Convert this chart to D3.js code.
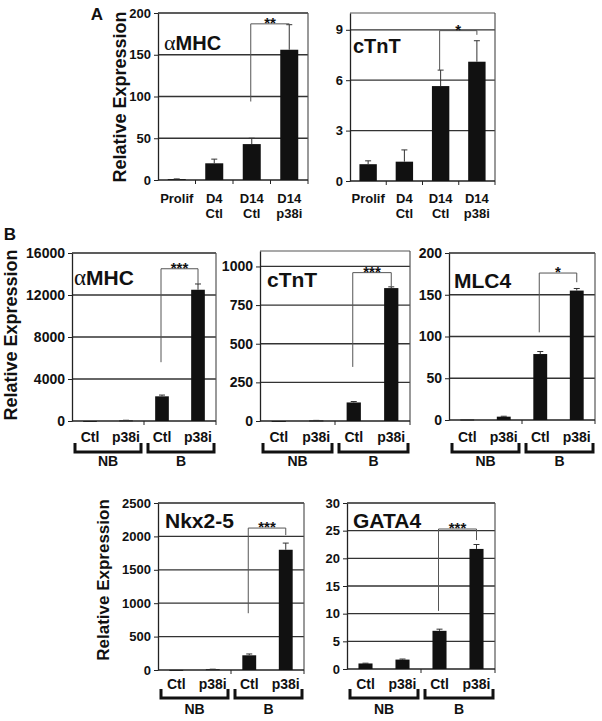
<!DOCTYPE html>
<html><head><meta charset="utf-8">
<script src="https://cdn.jsdelivr.net/npm/d3@7"></script>
<style>
body{margin:0;background:#fff}
svg{display:block}
text{font-family:Arial,"Liberation Sans",sans-serif;font-weight:bold;fill:#111}
</style>
</head><body>
<svg id="c" width="602" height="721"></svg>
<script>
// ---------- data ----------
const catsA = [["Prolif"], ["D4", "Ctl"], ["D14", "Ctl"], ["D14", "p38i"]];
const catsB = ["Ctl", "p38i", "Ctl", "p38i"];
const groupsB = ["NB", "B"];

const A_aMHC = [1, 20, 43, 156];
const A_aMHC_err = [0.3, 5, 7, 30];
const A_cTnT = [1.0, 1.15, 5.65, 7.1];
const A_cTnT_err = [0.2, 0.7, 0.95, 1.25];
const B_aMHC = [0, 50, 2350, 12500];
const B_aMHC_err = [0, 20, 120, 550];
const B_cTnT = [0, 3, 120, 860];
const B_cTnT_err = [0, 1, 6, 8];
const B_MLC4 = [0.5, 4, 79, 155];
const B_MLC4_err = [0, 0.5, 3, 2.5];
const B_Nkx25 = [1, 10, 220, 1800];
const B_Nkx25_err = [0, 2, 20, 100];
const B_GATA4 = [1.0, 1.7, 6.9, 21.7];
const B_GATA4_err = [0.05, 0.1, 0.3, 0.8];

const ticks_A_aMHC = [0, 50, 100, 150, 200];
const ticks_A_cTnT = [0, 3, 6, 9];
const ticks_B_aMHC = [0, 4000, 8000, 12000, 16000];
const ticks_B_cTnT = [0, 250, 500, 750, 1000];
const ticks_B_MLC4 = [0, 50, 100, 150, 200];
const ticks_B_Nkx25 = [0, 500, 1000, 1500, 2000, 2500];
const ticks_B_GATA4 = [0, 5, 10, 15, 20, 25, 30];

// significance brackets: [left foot, top, right foot] in data units
const sig_A_aMHC = [94, 187, 186];
const sig_A_cTnT = [6.6, 8.95, 8.7];
const sig_B_aMHC = [5600, 14500, 13000];
const sig_B_cTnT = [350, 960, 870];
const sig_B_MLC4 = [105, 176, 165];
const sig_B_Nkx25 = [850, 2125, 2020];
const sig_B_GATA4 = [10.5, 25.3, 23.3];
const stars = ["**", "*", "***", "***", "*", "***", "***"];
const titles = ["MHC", "cTnT", "MHC", "cTnT", "MLC4", "Nkx2-5", "GATA4"];
const alpha = [true, false, true, false, false, false, false];

// ---------- layout ----------
const svg = d3.select("#c");
const layout = [
  {x0:158, x1:308, y0:13,  y1:180, max:200,   tick:13, ts:20, tx:164, ty:50,  kind:"A"},
  {x0:350, x1:495, y0:13,  y1:181, max:10,    tick:13, ts:20, tx:353, ty:53,  kind:"A"},
  {x0:72,  x1:216, y0:253, y1:421, max:16000, tick:14, ts:21, tx:74,  ty:285, kind:"B", lb:442, br:452, gl:466},
  {x0:260, x1:410, y0:251, y1:421, max:1100,  tick:14, ts:21, tx:267, ty:287, kind:"B", lb:442, br:452, gl:466},
  {x0:449, x1:595, y0:253, y1:420, max:200,   tick:14, ts:21, tx:454, ty:288, kind:"B", lb:442, br:452, gl:466},
  {x0:158, x1:304, y0:503, y1:670, max:2500,  tick:13, ts:21, tx:165, ty:528, kind:"B", lb:689, br:698, gl:714},
  {x0:347, x1:495, y0:503, y1:669, max:30,    tick:13, ts:21, tx:353, ty:528, kind:"B", lb:689, br:698, gl:714}
];
const vals = [A_aMHC, A_cTnT, B_aMHC, B_cTnT, B_MLC4, B_Nkx25, B_GATA4];
const errs = [A_aMHC_err, A_cTnT_err, B_aMHC_err, B_cTnT_err, B_MLC4_err, B_Nkx25_err, B_GATA4_err];
const ticks = [ticks_A_aMHC, ticks_A_cTnT, ticks_B_aMHC, ticks_B_cTnT, ticks_B_MLC4, ticks_B_Nkx25, ticks_B_GATA4];
const sigs = [sig_A_aMHC, sig_A_cTnT, sig_B_aMHC, sig_B_cTnT, sig_B_MLC4, sig_B_Nkx25, sig_B_GATA4];

const gridCol = "#333";

layout.forEach((L, k) => {
  const g = svg.append("g");
  const n = vals[k].length;
  const pad = L.kind === "A" ? 0.52 : 0.62;
  const x = d3.scaleBand().domain(d3.range(n)).range([L.x0, L.x1]).paddingInner(pad).paddingOuter(pad / 2);
  const y = d3.scaleLinear().domain([0, L.max]).range([L.y1, L.y0]);

  // gridlines
  g.selectAll("line.grid").data(ticks[k].filter(t => t > 0)).join("line")
    .attr("x1", L.x0).attr("x2", L.x1).attr("y1", d => y(d)).attr("y2", d => y(d))
    .attr("stroke", gridCol).attr("stroke-width", 1.3);
  // frame top & right
  g.append("line").attr("x1", L.x0).attr("x2", L.x1).attr("y1", y(L.max)).attr("y2", y(L.max)).attr("stroke", "#555").attr("stroke-width", 1.2);
  g.append("line").attr("x1", L.x1).attr("x2", L.x1).attr("y1", y(L.max)).attr("y2", y(0)).attr("stroke", "#555").attr("stroke-width", 1.2);

  // y axis
  const ya = d3.axisLeft(y).tickValues(ticks[k]).tickFormat(d3.format("d")).tickSize(4).tickPadding(3).tickSizeOuter(0);
  const yg = g.append("g").attr("transform", `translate(${L.x0},0)`).call(ya);
  yg.select(".domain").attr("stroke", "#222").attr("stroke-width", 1.3);
  yg.selectAll(".tick line").attr("stroke", "#222");
  yg.selectAll("text").style("font-size", L.tick + "px").style("font-family", "Arial, 'Liberation Sans', sans-serif").style("font-weight", "bold").attr("fill", "#111");

  // x axis line with ticks
  const step = x.step();
  g.append("line").attr("x1", L.x0).attr("x2", L.x1).attr("y1", y(0)).attr("y2", y(0)).attr("stroke", "#222").attr("stroke-width", 1.3);
  const bounds = L.kind === "A" ? d3.range(1, n + 1) : [n / 2, n];
  g.selectAll("line.xt").data(bounds).join("line")
    .attr("x1", i => L.x0 + i * step).attr("x2", i => L.x0 + i * step)
    .attr("y1", y(0)).attr("y2", y(0) + 4).attr("stroke", "#222");

  // bars
  g.selectAll("rect.bar").data(vals[k]).join("rect")
    .attr("x", (d, i) => x(i)).attr("width", x.bandwidth())
    .attr("y", d => y(d)).attr("height", d => Math.max(0.8, y(0) - y(d)))
    .attr("fill", "#111");
  // error bars
  const eb = vals[k].map((v, i) => ({i, v, e: errs[k][i]})).filter(d => d.e > 0);
  g.selectAll("line.ev").data(eb).join("line")
    .attr("x1", d => x(d.i) + x.bandwidth() / 2).attr("x2", d => x(d.i) + x.bandwidth() / 2)
    .attr("y1", d => y(d.v)).attr("y2", d => y(d.v + d.e)).attr("stroke", "#333").attr("stroke-width", 1);
  g.selectAll("line.ec").data(eb).join("line")
    .attr("x1", d => x(d.i) + x.bandwidth() / 2 - 3).attr("x2", d => x(d.i) + x.bandwidth() / 2 + 3)
    .attr("y1", d => y(d.v + d.e)).attr("y2", d => y(d.v + d.e)).attr("stroke", "#333").attr("stroke-width", 1);

  // significance bracket
  const s = sigs[k];
  const xl = x(2) + x.bandwidth() / 2 - 1, xr = x(3) + x.bandwidth() / 2;
  g.append("path")
    .attr("d", `M${xl},${y(s[0])}V${y(s[1])}H${xr}V${y(s[2])}`)
    .attr("fill", "none").attr("stroke", "#555").attr("stroke-width", 1);
  g.append("text").attr("x", (xl + xr) / 2).attr("y", y(s[1]) + 4)
    .attr("text-anchor", "middle").style("font-size", "15px").text(stars[k]);

  // title
  const t = g.append("text").attr("x", L.tx).attr("y", L.ty).style("font-size", L.ts + "px");
  if (alpha[k]) t.append("tspan").style("font-family", "'Liberation Serif','DejaVu Serif',serif").style("font-weight", "normal").style("font-size", (L.ts + 2) + "px").text("α");
  t.append("tspan").text(titles[k]);

  // x labels
  if (L.kind === "A") {
    catsA.forEach((c, i) => {
      c.forEach((line, j) => {
        g.append("text").attr("x", x(i) + x.bandwidth() / 2).attr("y", 203 + j * 15)
          .attr("text-anchor", "middle").style("font-size", "13px").text(line);
      });
    });
  } else {
    g.selectAll("text.xl").data(catsB).join("text")
      .attr("x", (d, i) => x(i) + x.bandwidth() / 2).attr("y", L.lb)
      .attr("text-anchor", "middle").style("font-size", "14px").text(d => d);
    const mid = L.x0 + step * n / 2;
    const spans = [[L.x0 + 3, mid - 3], [mid + 4, L.x1 - 2]];
    groupsB.forEach((gname, j) => {
      const [a, b] = spans[j];
      g.append("path").attr("d", `M${a},${L.br - 9}V${L.br}H${b}V${L.br - 9}`)
        .attr("fill", "none").attr("stroke", "#111").attr("stroke-width", 3);
      g.append("text").attr("x", (a + b) / 2).attr("y", L.gl).attr("text-anchor", "middle")
        .style("font-size", "14px").text(gname);
    });
  }
});

// axis titles
const ylabels = [{x:126, y:97, s:18}, {x:17, y:335, s:18}, {x:109, y:580, s:17}];
ylabels.forEach(d => {
  svg.append("text").attr("transform", `translate(${d.x},${d.y}) rotate(-90)`)
    .attr("text-anchor", "middle").style("font-size", d.s + "px").text("Relative Expression");
});
// panel letters
svg.append("text").attr("x", 97).attr("y", 20).attr("text-anchor", "middle").style("font-size", "17px").text("A");
svg.append("text").attr("x", 10).attr("y", 240).attr("text-anchor", "middle").style("font-size", "17px").text("B");
</script>
</body></html>
